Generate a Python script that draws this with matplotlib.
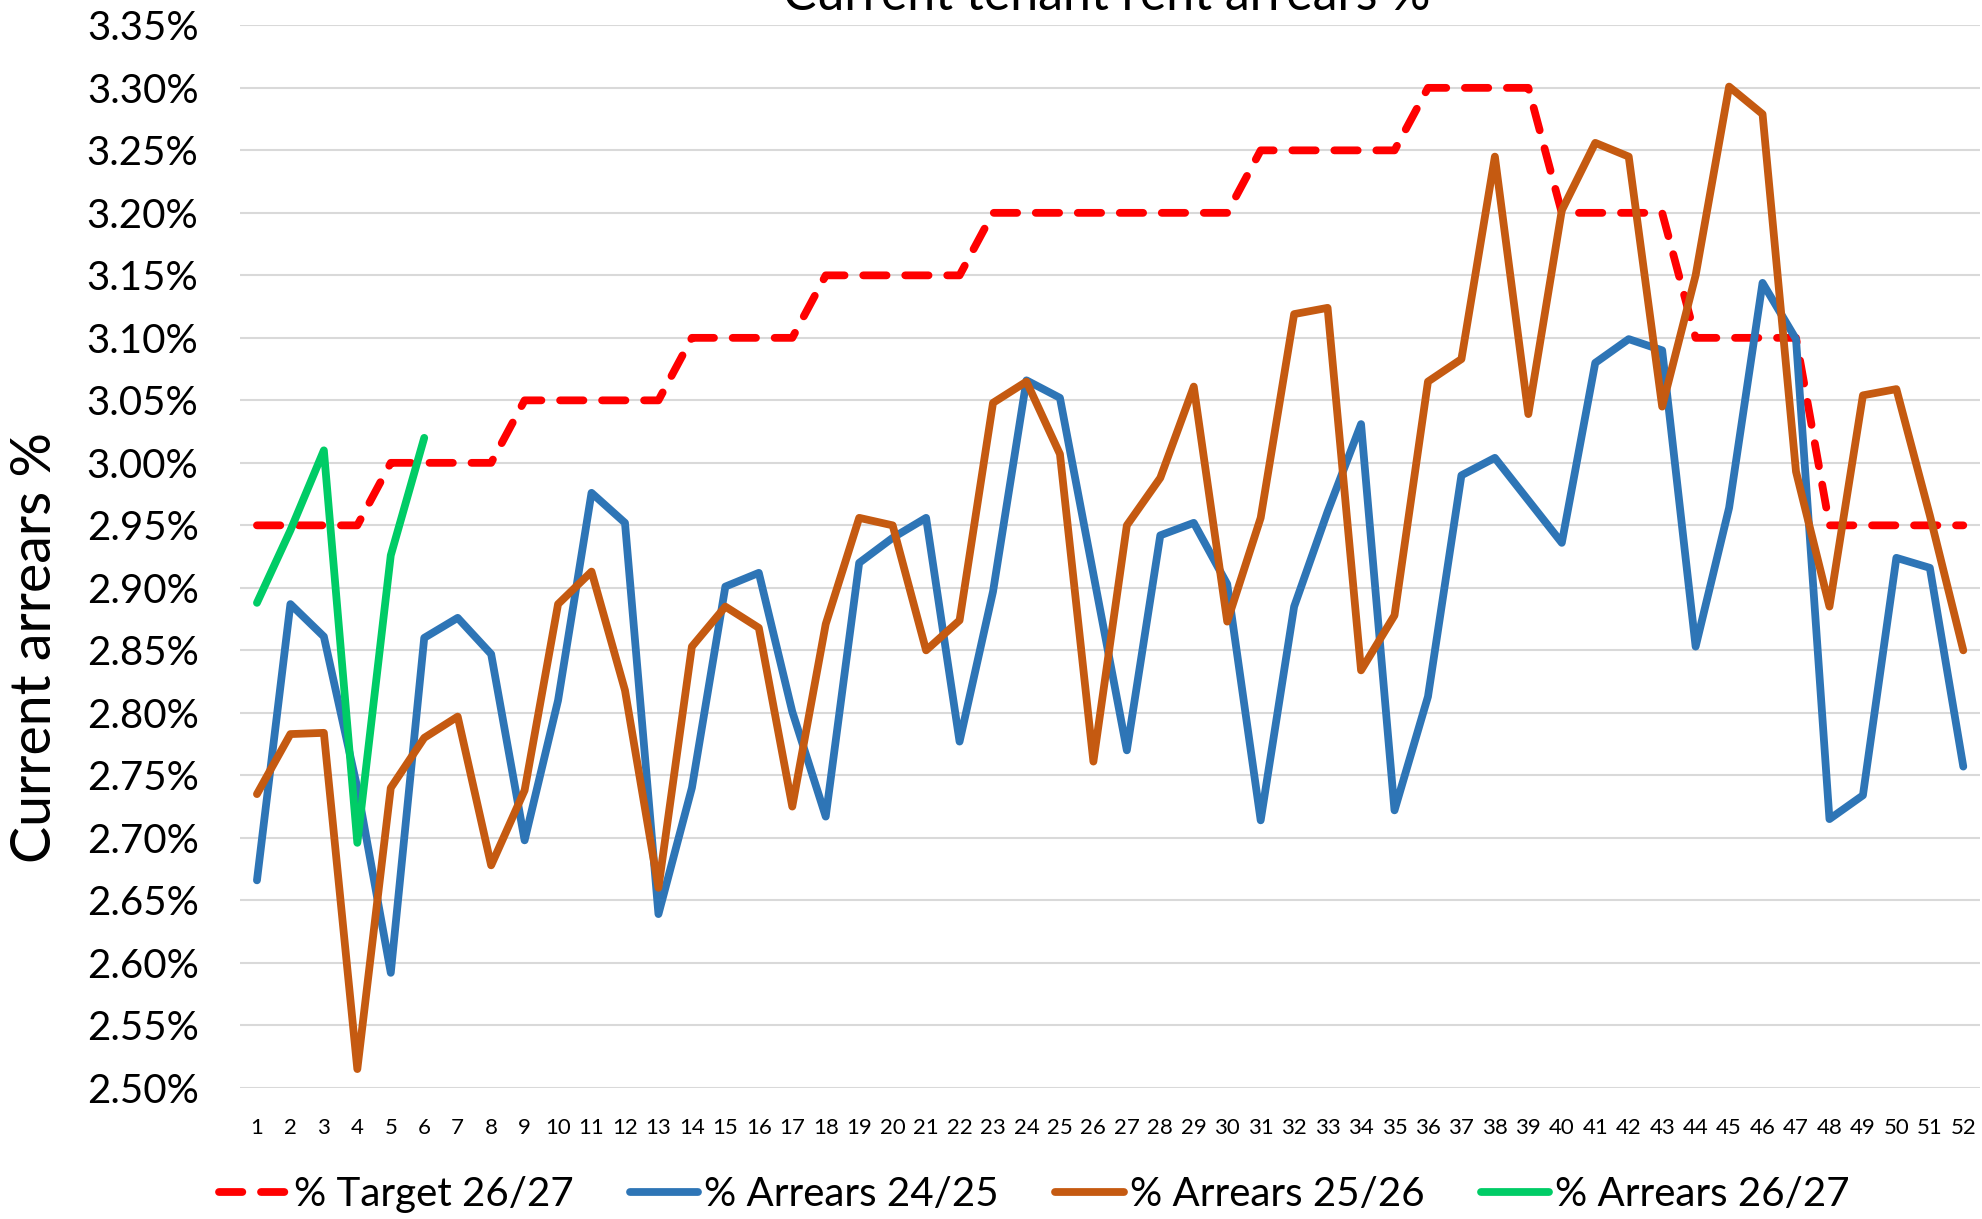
import matplotlib.pyplot as plt
from matplotlib.ticker import FuncFormatter

# weekly current tenant rent arrears, %
weeks = list(range(1, 53))

target_26_27 = [2.95, 2.95, 2.95, 2.95, 3.00, 3.00, 3.00, 3.00, 3.05, 3.05,
                3.05, 3.05, 3.05, 3.10, 3.10, 3.10, 3.10, 3.15, 3.15, 3.15,
                3.15, 3.15, 3.20, 3.20, 3.20, 3.20, 3.20, 3.20, 3.20, 3.20,
                3.25, 3.25, 3.25, 3.25, 3.25, 3.30, 3.30, 3.30, 3.30, 3.20,
                3.20, 3.20, 3.20, 3.10, 3.10, 3.10, 3.10, 2.95, 2.95, 2.95,
                2.95, 2.95]

arrears_24_25 = [2.666, 2.887, 2.861, 2.740, 2.592, 2.860, 2.876, 2.847, 2.698, 2.810,
                 2.976, 2.952, 2.639, 2.740, 2.901, 2.912, 2.801, 2.717, 2.920, 2.940,
                 2.956, 2.777, 2.897, 3.066, 3.052, 2.911, 2.770, 2.942, 2.952, 2.903,
                 2.714, 2.885, 2.961, 3.031, 2.722, 2.813, 2.990, 3.004, 2.970, 2.936,
                 3.080, 3.099, 3.090, 2.853, 2.964, 3.144, 3.099, 2.715, 2.734, 2.924,
                 2.916, 2.757]

arrears_25_26 = [2.735, 2.783, 2.784, 2.515, 2.740, 2.780, 2.797, 2.678, 2.738, 2.887,
                 2.913, 2.818, 2.660, 2.853, 2.885, 2.868, 2.725, 2.871, 2.956, 2.950,
                 2.850, 2.874, 3.048, 3.065, 3.007, 2.761, 2.950, 2.988, 3.061, 2.873,
                 2.956, 3.119, 3.124, 2.834, 2.878, 3.065, 3.083, 3.245, 3.039, 3.202,
                 3.256, 3.245, 3.045, 3.150, 3.301, 3.279, 2.993, 2.885, 3.054, 3.059,
                 2.958, 2.850]

weeks_26_27 = [1, 2, 3, 4, 5, 6]
arrears_26_27 = [2.888, 2.946, 3.010, 2.696, 2.926, 3.020]

font = 'Lato'
plt.rcParams['font.family'] = font

fig = plt.figure(figsize=(19.82, 12.19), dpi=100)
ax = fig.add_axes([0.1212, 0.1076, 0.8778, 0.8716])

lw = 5.6
ax.plot(weeks, target_26_27, color='#ff0000', lw=lw, dashes=(3.0, 2.4),
        dash_capstyle='round', solid_joinstyle='round', label='% Target 26/27', zorder=3)
ax.plot(weeks, arrears_24_25, color='#2e75b6', lw=lw, solid_capstyle='round',
        solid_joinstyle='round', label='% Arrears 24/25', zorder=4)
ax.plot(weeks, arrears_25_26, color='#c55a11', lw=lw, solid_capstyle='round',
        solid_joinstyle='round', label='% Arrears 25/26', zorder=5)
ax.plot(weeks_26_27, arrears_26_27, color='#00cc66', lw=lw, solid_capstyle='round',
        solid_joinstyle='round', label='% Arrears 26/27', zorder=6)

ax.set_xlim(0.5, 52.5)
ax.set_ylim(2.50, 3.35)
ax.set_yticks([2.50 + 0.05 * i for i in range(18)])
ax.yaxis.set_major_formatter(FuncFormatter(lambda v, p: f'{v:.2f}%'))
ax.set_xticks(weeks)
ax.grid(axis='y', color='#d9d9d9', lw=1.5, zorder=0)
ax.set_axisbelow(True)
for s in ax.spines.values():
    s.set_visible(False)
ax.tick_params(axis='both', length=0)
ax.tick_params(axis='y', labelsize=29, pad=30)
ax.tick_params(axis='x', labelsize=16, pad=22)

fig.text(0.5585, 0.9918, 'Current tenant rent arrears %', fontsize=36,
         ha='center', va='baseline')
fig.text(0.0177, 0.469, 'Current arrears %', fontsize=40, rotation=90,
         ha='center', va='center')

fig.legend(loc='center', bbox_to_anchor=(0.522, 0.02), ncol=4, frameon=False,
           fontsize=29, handlelength=1.7, handletextpad=0.15, columnspacing=1.4)

fig.savefig('out.png', dpi=100)
